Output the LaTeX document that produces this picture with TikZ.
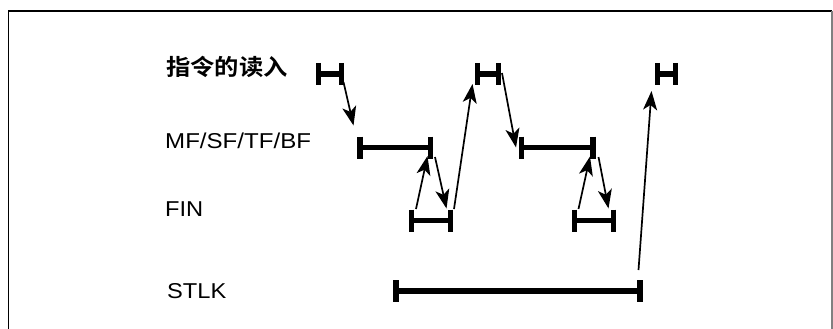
\documentclass[tikz,border=0pt]{standalone}
\usepackage{fontspec}
\setmainfont{Liberation Sans}
\newfontfamily\cjk{Noto Sans CJK SC}[BoldFont={* Bold}]
\usetikzlibrary{arrows.meta}
\newcommand\timebar[4]{%
  \coordinate (#1-l) at (#2,#4);
  \coordinate (#1-r) at (#3,#4);
  \draw[barline] (#1-l) -- (#1-r);
  \draw[barline] ([yshift=11pt]#1-l) -- ([yshift=-11pt]#1-l);
  \draw[barline] ([yshift=11pt]#1-r) -- ([yshift=-11pt]#1-r);
}
\begin{document}
\begin{tikzpicture}[x=1pt,y=-1pt,
  barline/.style={line width=5.6pt,line cap=butt},
  conn/.style={line width=1.7pt,-{Stealth[length=19pt,width=14pt,inset=5pt]}},
  lbl/.style={anchor=base west,inner sep=0pt,font=\fontsize{21.5}{24}\selectfont},
  frame/.style={line width=1.4pt}]
\useasboundingbox (0,0) rectangle (833,329);
\draw[frame] (8.5,335) -- (8.5,11) -- (832,11);
\draw[frame,gray] (832,11) -- (832,335);
% labels
\node[lbl,font=\cjk\bfseries\fontsize{22.5}{24}\selectfont] (t1) at (166,75.5) {\scalebox{1.08}[1]{指令的读入}};
\node[lbl] (t2) at (165,148) {\scalebox{1.12}[1]{MF/SF/TF/BF}};
\node[lbl] (t3) at (165,216) {\scalebox{1.1}[1]{FIN}};
\node[lbl] (t4) at (167,298) {\scalebox{1.1}[1]{STLK}};
% bars
\timebar{h1}{318.5}{341.5}{74}
\timebar{h2}{477.5}{498.5}{74}
\timebar{h3}{657.5}{675.5}{74}
\timebar{m1}{360}{430.5}{147.5}
\timebar{m2}{521.5}{593}{147.5}
\timebar{f1}{411.5}{450.5}{220.5}
\timebar{f2}{574.5}{613.5}{220.5}
\timebar{s1}{396}{640}{291}
% arrow end points
\coordinate (a1s) at (343.5,82);  \coordinate (a1e) at (353.5,125.5);
\coordinate (a2s) at (416,209);   \coordinate (a2e) at (427.5,156);
\coordinate (a3s) at (435,157);   \coordinate (a3e) at (446.5,208.5);
\coordinate (a4s) at (454,209);   \coordinate (a4e) at (472.5,84);
\coordinate (a5s) at (502,73);    \coordinate (a5e) at (516,147.5);
\coordinate (a6s) at (578.5,209); \coordinate (a6e) at (590,156.5);
\coordinate (a7s) at (598.5,157); \coordinate (a7e) at (608.5,208.5);
\coordinate (a8s) at (638.5,270); \coordinate (a8e) at (651.5,91);
\draw[conn] (a1s) -- (a1e);
\draw[conn] (a2s) -- (a2e);
\draw[conn] (a3s) -- (a3e);
\draw[conn] (a4s) -- (a4e);
\draw[conn] (a5s) -- (a5e);
\draw[conn] (a6s) -- (a6e);
\draw[conn] (a7s) -- (a7e);
\draw[conn] (a8s) -- (a8e);
\end{tikzpicture}
\end{document}
